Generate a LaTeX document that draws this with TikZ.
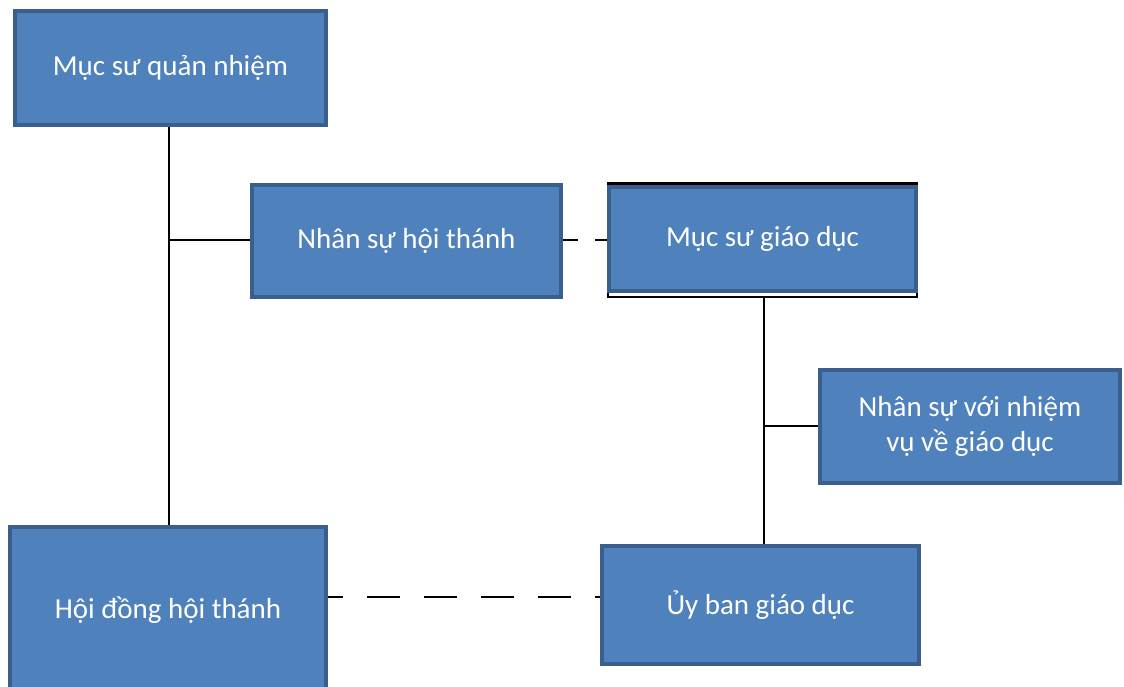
\documentclass[tikz,border=0pt]{standalone}
\usepackage{fontspec}
\setmainfont{Carlito}
\usetikzlibrary{shadows}
\begin{document}
\begin{tikzpicture}[x=1pt,y=-1pt,
  orgbox/.style={draw=boxedge, fill=boxfill, line width=4pt, inner sep=0pt,
    text=white, align=center, font=\fontsize{29}{35}\selectfont,
    drop shadow={shadow xshift=-1.5pt, shadow yshift=-2pt, fill=black!75, opacity=0.8}},
  link/.style={line width=2.8pt, black},
  linkdash/.style={link, dash pattern=on 33pt off 24pt, dash phase=18pt}]
\definecolor{boxfill}{HTML}{4F81BD}
\definecolor{boxedge}{HTML}{3A5F8C}
\useasboundingbox (0,0) rectangle (1124,687);

% top-left: senior pastor
\node[orgbox, minimum width=311pt, minimum height=114pt] (senior) at (170.5,68) {Mục sư quản nhiệm};
% church staff
\node[orgbox, minimum width=309pt, minimum height=112pt] (staff) at (406.5,241) {Nhân sự hội thánh};
% education pastor, with its dark frame
\fill[black] (607,182) rectangle (918,298);
\fill[white] (609,293) rectangle (916,295.5);
\node[orgbox, drop shadow={opacity=0}, minimum width=307pt, minimum height=104pt] (edupastor) at (762.5,239) {Mục sư giáo dục};
% staff with education duties
\node[orgbox, minimum width=300pt, minimum height=113pt] (edustaff) at (970,426) {Nhân sự với nhiệm\\vụ về giáo dục};
% church board
\node[orgbox, minimum width=316pt, minimum height=166pt] (board) at (168,610) {Hội đồng hội thánh};
% education committee
\node[orgbox, minimum width=317pt, minimum height=118pt] (committee) at (760.5,605) {Ủy ban giáo dục};

% solid reporting lines
\draw[link] (senior.south -| 169,0) -- (board.north -| 169,0);
\draw[link] (staff.west |- 0,240) -- (169,240);
\draw[link] (764,298) -- (committee.north -| 764,0);
\draw[link] (edustaff.west |- 0,426) -- (764,426);

% dashed advisory lines
\draw[link, dash pattern=on 15pt off 17pt] (staff.east |- 0,240) -- (edupastor.west |- 0,240);
\draw[linkdash] ([yshift=13pt]board.east) -- ([yshift=8pt]committee.west);
\end{tikzpicture}
\end{document}
